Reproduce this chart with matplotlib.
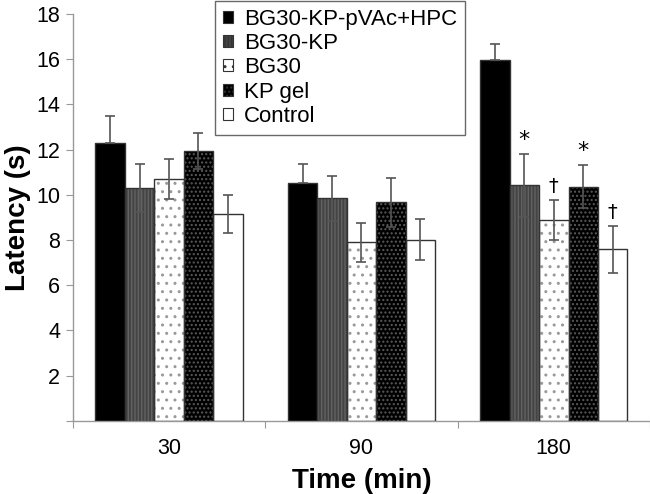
import numpy as np
import matplotlib
matplotlib.use('Agg')
import matplotlib.pyplot as plt
from matplotlib.patches import Patch

plt.rcParams['font.family'] = ['Liberation Sans', 'DejaVu Sans']
plt.rcParams['hatch.linewidth'] = 1.0

# data
times = ['30', '90', '180']
groups = ['BG30-KP-pVAc+HPC', 'BG30-KP', 'BG30', 'KP gel', 'Control']
means = {
    'BG30-KP-pVAc+HPC': [12.28, 10.51, 15.94],
    'BG30-KP':          [10.29, 9.85, 10.41],
    'BG30':             [10.70, 7.89, 8.89],
    'KP gel':           [11.94, 9.66, 10.36],
    'Control':          [9.14, 8.02, 7.58],
}
errs = {
    'BG30-KP-pVAc+HPC': [1.20, 0.84, 0.73],
    'BG30-KP':          [1.06, 1.00, 1.39],
    'BG30':             [0.87, 0.86, 0.87],
    'KP gel':           [0.78, 1.10, 0.94],
    'Control':          [0.84, 0.90, 1.05],
}
marks = {'BG30-KP': ['', '', '*'], 'BG30': ['', '', '\u2020'],
         'KP gel': ['', '', '*'], 'Control': ['', '', '\u2020']}

# face, hatch, hatch colour
styles = {
    'BG30-KP-pVAc+HPC': ('black', None, 'black'),
    'BG30-KP':          ('#444444', '|||||', '#626262'),
    'BG30':             ('white', '..', '#999999'),
    'KP gel':           ('black', '....', '#5a5a5a'),
    'Control':          ('white', None, 'white'),
}

fig = plt.figure(figsize=(6.5, 4.94), dpi=100)
ax = fig.add_axes([0.112, 0.148, 0.888, 0.824])

x = np.arange(len(times))
w = 0.153
handles = []
for i, g in enumerate(groups):
    pos = x + (i - 2) * w
    face, hatch, hcol = styles[g]
    ax.bar(pos, means[g], w, color=face, edgecolor=hcol, hatch=hatch,
           linewidth=0, zorder=2)
    ax.bar(pos, means[g], w, fill=False, edgecolor='#333333',
           linewidth=1.0, zorder=3)
    e = np.array(errs[g])
    # lower half of the bar on solid black is not visible in the source
    yerr = [np.zeros_like(e), e] if g == groups[0] else e
    ax.errorbar(pos, means[g], yerr=yerr, fmt='none', ecolor='#555555',
                elinewidth=1.2, capsize=3.5, capthick=1.2, zorder=4)
    for j, m in enumerate(marks.get(g, [])):
        if m:
            ax.annotate(m, (pos[j], means[g][j] + errs[g][j]),
                        xytext=(0, 3), textcoords='offset points',
                        ha='center', va='bottom',
                        fontsize=16 if m == '*' else 14,
                        family=['DejaVu Sans'])
    handles.append(Patch(facecolor=face, edgecolor='#333333', hatch=hatch,
                         linewidth=0.8))

ax.set_xlim(-0.5, 2.5)
ax.set_ylim(0, 18)
ax.set_yticks(np.arange(0, 19, 2))
ax.set_yticklabels([''] + [str(v) for v in range(2, 19, 2)], fontsize=15.5)
ax.set_xticks([-0.5, 0.5, 1.5, 2.5])
ax.set_xticklabels([])
ax.set_xticks(x, minor=True)
ax.set_xticklabels(times, minor=True, fontsize=15.5)
ax.tick_params(axis='x', which='minor', length=0, pad=12)
ax.tick_params(axis='x', which='major', length=5, color='#999999')
ax.tick_params(axis='y', length=5, color='#999999', pad=4)

for s in ['top', 'right']:
    ax.spines[s].set_visible(False)
for s in ['left', 'bottom']:
    ax.spines[s].set_color('#999999')
    ax.spines[s].set_linewidth(1.0)

ax.set_ylabel('Latency (s)', fontsize=20, fontweight='bold', labelpad=4)
ax.set_xlabel('Time (min)', fontsize=20, fontweight='bold', labelpad=7)

leg = ax.legend(handles, groups, loc='upper left',
                bbox_to_anchor=(0.246, 1.032), fontsize=16,
                frameon=True, fancybox=False, handlelength=0.45,
                handleheight=0.45, handletextpad=0.5, labelspacing=0.15,
                borderpad=0.35, borderaxespad=0)
leg.get_frame().set_edgecolor('#444444')
leg.get_frame().set_linewidth(1.0)

fig.savefig('out.png', dpi=100)
